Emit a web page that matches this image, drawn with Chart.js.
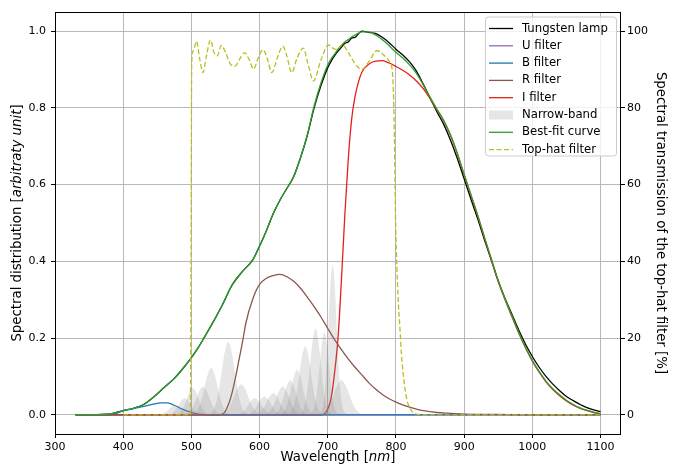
<!DOCTYPE html>
<html>
<head>
<meta charset="utf-8">
<script src="https://cdn.jsdelivr.net/npm/chart.js@4"></script>
<style>
  html, body { margin: 0; padding: 0; background: #fff; }
</style>
</head>
<body>
<canvas id="chart" width="679" height="468"></canvas>
<script>
// wavelength grid shared by the lamp spectrum and the fit
const lampWl = [330,350,370,385,400, 415,430,445,460,475, 490,500,510,520,530, 545,560,575,590,600,
  610,620,630,640,650, 660,670,680,690,700, 705,710,715,720,725, 730,735,740,745,750,
  760,770,780,790,800, 810,820,830,840,850, 860,870,880,890,900, 910,920,930,940,950,
  960,970,980,990,1000, 1010,1020,1030,1040,1050, 1060,1070,1080,1090,1100]
const lampVals = [0,0,0.001,0.004,0.011, 0.017,0.027,0.047,0.071,0.095, 0.126,0.149,0.175,0.205,0.236,
  0.285,0.339,0.374,0.404,0.44, 0.48,0.524,0.56,0.59,0.621, 0.67,0.728,0.8,0.858,0.905,
  0.922,0.936,0.948,0.958,0.968, 0.972,0.982,0.984,0.993,1.0, 0.997,0.994,0.984,0.97,0.953,
  0.938,0.92,0.896,0.862,0.826, 0.79,0.757,0.716,0.668,0.615, 0.562,0.51,0.455,0.402,0.348,
  0.303,0.262,0.221,0.184,0.152, 0.124,0.1,0.08,0.063,0.048, 0.037,0.027,0.019,0.013,0.008]
const fitVals = [0,0,0.001,0.004,0.011, 0.017,0.027,0.047,0.071,0.095, 0.126,0.149,0.175,0.205,0.235,
  0.285,0.34,0.374,0.403,0.44, 0.48,0.525,0.56,0.59,0.62, 0.67,0.73,0.805,0.865,0.912,
  0.928,0.94,0.953,0.963,0.972, 0.978,0.985,0.99,0.995,0.998, 0.998,0.99,0.978,0.962,0.945,
  0.93,0.912,0.89,0.86,0.828, 0.797,0.768,0.73,0.682,0.627, 0.574,0.52,0.462,0.406,0.35,
  0.302,0.258,0.215,0.176,0.142, 0.113,0.088,0.068,0.052,0.038, 0.027,0.018,0.012,0.007,0.003]

const uWl = [330, 1100]
const uVals = [0, 0]

const bWl = [330,380,390,400,415,430,445,455,465,475,485,495,505,515,530,1100]
const bVals = [0,0,0.004,0.01,0.016,0.022,0.028,0.031,0.031,0.025,0.016,0.009,0.004,0.001,0,0]

const rWl = [330,540,548,555,560, 565,570,575,580,590, 600,610,620,630,640, 650,660,670,680,690,
  700,710,720,730,740, 750,760,770,780,790, 800,810,820,830,840, 860,880,900,950,1000, 1100]
const rVals = [0,0,0.005,0.03,0.06, 0.1,0.145,0.19,0.24,0.302, 0.34,0.356,0.363,0.366,0.36,
  0.348,0.33,0.307,0.282,0.255, 0.225,0.196,0.17,0.146,0.124, 0.104,0.084,0.067,0.053,0.042,
  0.033,0.026,0.02,0.015,0.011, 0.006,0.004,0.002,0.001,0, 0]

const iWl = [330,690,695,700,705, 710,715,720,725,730, 735,740,745,750,760, 770,780,790,800,810,
  820,830,840,850,860, 870,880,890,900,910, 920,930,940,950,960, 970,980,990,1000,1010,
  1020,1030,1040,1050,1060, 1070,1080,1090,1100]
const iVals = [0,0,0.002,0.015,0.045, 0.11,0.2,0.35,0.52,0.665, 0.77,0.83,0.868,0.893,0.914,
  0.922,0.923,0.917,0.908,0.898, 0.886,0.87,0.85,0.824,0.795, 0.766,0.728,0.68,0.625,0.572,
  0.518,0.46,0.404,0.348,0.3, 0.256,0.213,0.174,0.14,0.111, 0.086,0.066,0.05,0.036,0.025,
  0.017,0.011,0.006,0.002]

// narrow-band transmissions: wavelengths and values of each band
const narrowWl = [
  [446,456,461,466,471,476,481,486,491,496,506],
  [460,470,475,480,485,490,495,500,505,510,520],
  [472,482,487,492,497,502,507,512,517,522,532],
  [484,495,500.5,506,511.5,517,522.5,528,533.5,539,550],
  [496,507,512.5,518,523.5,529,534.5,540,545.5,551,562],
  [521,532,537.5,543,548.5,554,559.5,565,570.5,576,587],
  [537,549,555,561,567,573,579,585,591,597,609],
  [560,571,576.5,582,587.5,593,598.5,604,609.5,615,626],
  [574,585,590.5,596,601.5,607,612.5,618,623.5,629,640],
  [587,598,603.5,609,614.5,620,625.5,631,636.5,642,653],
  [601,612,617.5,623,628.5,634,639.5,645,650.5,656,667],
  [615,625,630,635,640,645,650,655,660,665,675],
  [625,635,640,645,650,655,660,665,670,675,685],
  [637,647,652,657,662,667,672,677,682,687,697],
  [655,664,668.5,673,677.5,682,686.5,691,695.5,700,709],
  [671,679,683,687,691,695,699,703,707,711,719],
  [686,693,696.5,700,703.5,707,710.5,714,717.5,721,728],
  [681,694,700.5,707,713.5,720,726.5,733,739.5,746,759]
]
const narrowVals = [
  [0,0.0016,0.0053,0.0125,0.021,0.025,0.021,0.0125,0.0053,0.0016,0],
  [0,0.0027,0.009,0.0215,0.036,0.043,0.036,0.0215,0.009,0.0027,0],
  [0,0.0044,0.0147,0.035,0.0588,0.07,0.0588,0.035,0.0147,0.0044,0],
  [0,0.0046,0.0155,0.037,0.0622,0.074,0.0622,0.037,0.0155,0.0046,0],
  [0,0.0076,0.0256,0.061,0.1025,0.122,0.1025,0.061,0.0256,0.0076,0],
  [0,0.0119,0.0399,0.095,0.1596,0.19,0.1596,0.095,0.0399,0.0119,0],
  [0,0.005,0.0168,0.04,0.0672,0.08,0.0672,0.04,0.0168,0.005,0],
  [0,0.0027,0.009,0.0215,0.0361,0.043,0.0361,0.0215,0.009,0.0027,0],
  [0,0.003,0.0101,0.024,0.0403,0.048,0.0403,0.024,0.0101,0.003,0],
  [0,0.0036,0.012,0.0285,0.0479,0.057,0.0479,0.0285,0.012,0.0036,0],
  [0,0.0046,0.0155,0.037,0.0622,0.074,0.0622,0.037,0.0155,0.0046,0],
  [0,0.0056,0.0189,0.045,0.0756,0.09,0.0756,0.045,0.0189,0.0056,0],
  [0,0.0073,0.0246,0.0585,0.0983,0.117,0.0983,0.0585,0.0246,0.0073,0],
  [0,0.0111,0.0374,0.089,0.1495,0.178,0.1495,0.089,0.0374,0.0111,0],
  [0,0.0141,0.0473,0.1125,0.189,0.225,0.189,0.1125,0.0473,0.0141,0],
  [0,0.0135,0.0454,0.108,0.1814,0.216,0.1814,0.108,0.0454,0.0135,0],
  [0,0.0244,0.0819,0.195,0.3276,0.39,0.3276,0.195,0.0819,0.0244,0],
  [0,0.0056,0.0189,0.045,0.0756,0.09,0.0756,0.045,0.0189,0.0056,0]
]

// top-hat filter transmission in %
const thWl = [400,498.5,499.5,500.5,503, 507.5,512,517,522,528, 533,538,544,550,557, 564,571,578,585,591,
  598,605,611,618,626, 634,640,647,655,664, 671,679,690,701,709, 714,721,730,740,750,
  760,772,782,791,795, 797.5,799.5,801.5,803,806, 808,811,816,823,830, 845,1100]
const thVals = [0,0,45,92,95, 97.4,93,89.2,93.5,97.7, 94.5,93.6,96.3,94.5,91.5, 90.9,92.8,94.4,92.5,90.1,
  93,95.2,93,89.2,93, 96.1,93.5,89.2,93,95.6, 91.5,87,92.5,96.4,95.4, 95.3,96.5,94.5,91.5,90,
  92,94.9,93.8,91.9,89, 75,50,38,31,22, 16,10,4,1,0.2, 0,0]

const xTicks = [300,400,500,600,700,800,900,1000,1100]
const yTicks = [0,0.2,0.4,0.6,0.8,1.0]
const y2Ticks = [0,20,40,60,80,100]

const legendItems = [
  { label: "Tungsten lamp", color: "#000000" },
  { label: "U filter", color: "#9467bd" },
  { label: "B filter", color: "#1f77b4" },
  { label: "R filter", color: "#8c564b" },
  { label: "I filter", color: "#e3201c" },
  { label: "Narrow-band", patch: "rgba(128,128,128,0.2)" },
  { label: "Best-fit curve", color: "#2ca02c" },
  { label: "Top-hat filter", color: "#bcbd22", dash: [5, 2.5] }
]

const FONT = "'DejaVu Sans', sans-serif"

function pts(xs, ys) {
  return xs.map((x, i) => ({ x: x, y: ys[i] }))
}

function line(data, color, order, extra) {
  return Object.assign({
    data: data, borderColor: color, backgroundColor: color, borderWidth: 1.3,
    pointRadius: 0, fill: false, order: order, yAxisID: "y",
    cubicInterpolationMode: "monotone"
  }, extra || {})
}

var datasets = [
  line(pts(lampWl, lampVals), "#000000", 9),
  line(pts(uWl, uVals), "#9467bd", 8),
  line(pts(bWl, bVals), "#1f77b4", 6),
  line(pts(rWl, rVals), "#8c564b", 5),
  line(pts(iWl, iVals), "#e3201c", 7)
]
narrowWl.forEach((wl, k) => {
  datasets.push(line(pts(wl, narrowVals[k]), "rgba(0,0,0,0)", 3, {
    borderWidth: 0, fill: "origin", backgroundColor: "rgba(128,128,128,0.2)"
  }))
})
datasets.push(line(pts(lampWl, fitVals), "#2ca02c", 1))
datasets.push(line(pts(thWl, thVals), "#bcbd22", 0, { yAxisID: "y2", borderDash: [5, 2.5] }))

function richText(ctx, parts, x, y, rot, size) {
  ctx.save()
  ctx.translate(x, y)
  ctx.rotate(rot)
  ctx.textBaseline = "middle"
  ctx.textAlign = "left"
  ctx.fillStyle = "#000"
  var widths = parts.map(p => {
    ctx.font = (p.italic ? "italic " : "") + size + "px " + FONT
    return ctx.measureText(p.text).width
  })
  var total = widths.reduce((a, b) => a + b, 0)
  var cx = -total / 2
  parts.forEach((p, i) => {
    ctx.font = (p.italic ? "italic " : "") + size + "px " + FONT
    ctx.fillText(p.text, cx, 0)
    cx += widths[i]
  })
  ctx.restore()
}

const decorations = {
  id: "decorations",
  afterDraw(chart) {
    var ctx = chart.ctx
    var a = chart.chartArea
    // frame
    ctx.save()
    ctx.strokeStyle = "#000"
    ctx.lineWidth = 1
    ctx.strokeRect(Math.round(a.left) + 0.5, Math.round(a.top) + 0.5,
      Math.round(a.right - a.left) - 1, Math.round(a.bottom - a.top))
    ctx.restore()

    // axis titles
    richText(ctx, [{ text: "Wavelength [" }, { text: "nm", italic: true }, { text: "]" }],
      (a.left + a.right) / 2, 458, 0, 13.3)
    richText(ctx, [{ text: "Spectral distribution [" }, { text: "arbitraty unit", italic: true }, { text: "]" }],
      18, (a.top + a.bottom) / 2, -Math.PI / 2, 13.3)
    richText(ctx, [{ text: "Spectral transmission of the top-hat filter [%]" }],
      660, (a.top + a.bottom) / 2, Math.PI / 2, 13.3)

    // legend
    ctx.save()
    var bx = 485, by = 16.5, bw = 131, bh = 139
    ctx.beginPath()
    ctx.roundRect(bx + 0.5, by + 0.5, bw, bh, 3)
    ctx.fillStyle = "rgba(255,255,255,0.8)"
    ctx.fill()
    ctx.strokeStyle = "#cccccc"
    ctx.lineWidth = 1
    ctx.stroke()
    ctx.font = "11.7px " + FONT
    ctx.textBaseline = "middle"
    legendItems.forEach((it, i) => {
      var y = 28.5 + i * 17.3
      if (it.patch) {
        ctx.fillStyle = it.patch
        ctx.fillRect(489, y - 4.5, 24, 9)
      } else {
        ctx.strokeStyle = it.color
        ctx.lineWidth = 1.3
        ctx.setLineDash(it.dash || [])
        ctx.beginPath()
        ctx.moveTo(489, y)
        ctx.lineTo(513, y)
        ctx.stroke()
        ctx.setLineDash([])
      }
      ctx.fillStyle = "#000"
      ctx.fillText(it.label, 522, y)
    })
    ctx.restore()
  }
}

const tickFont = { family: FONT, size: 11 }

new Chart(document.getElementById("chart").getContext("2d"), {
  type: "line",
  data: { datasets: datasets },
  options: {
    responsive: false,
    animation: false,
    layout: { padding: { top: 12, left: 0, right: 0, bottom: 0 } },
    plugins: { legend: { display: false }, tooltip: { enabled: false } },
    scales: {
      x: {
        type: "linear", min: 300, max: 1130,
        afterBuildTicks: s => { s.ticks = xTicks.map(v => ({ value: v })) },
        afterFit: s => { s.height = 34 },
        grid: { color: "#b8b8b8", lineWidth: 1, tickColor: "#000", tickLength: 4 },
        border: { display: false },
        ticks: { font: tickFont, color: "#000", padding: 3, maxRotation: 0, autoSkip: false, callback: v => String(v) }
      },
      y: {
        position: "left", min: -0.05, max: 1.05,
        afterBuildTicks: s => { s.ticks = yTicks.map(v => ({ value: v })) },
        afterFit: s => { s.width = 55 },
        grid: { color: "#b8b8b8", lineWidth: 1, tickColor: "#000", tickLength: 4 },
        border: { display: false },
        ticks: { font: tickFont, color: "#000", padding: 5, autoSkip: false, callback: v => v.toFixed(1) }
      },
      y2: {
        position: "right", min: -5, max: 105,
        afterBuildTicks: s => { s.ticks = y2Ticks.map(v => ({ value: v })) },
        afterFit: s => { s.width = 58 },
        grid: { drawOnChartArea: false, tickColor: "#000", tickLength: 4 },
        border: { display: false },
        ticks: { font: tickFont, color: "#000", padding: 2, autoSkip: false, callback: v => String(v) }
      }
    }
  },
  plugins: [decorations]
})
</script>
</body>
</html>
